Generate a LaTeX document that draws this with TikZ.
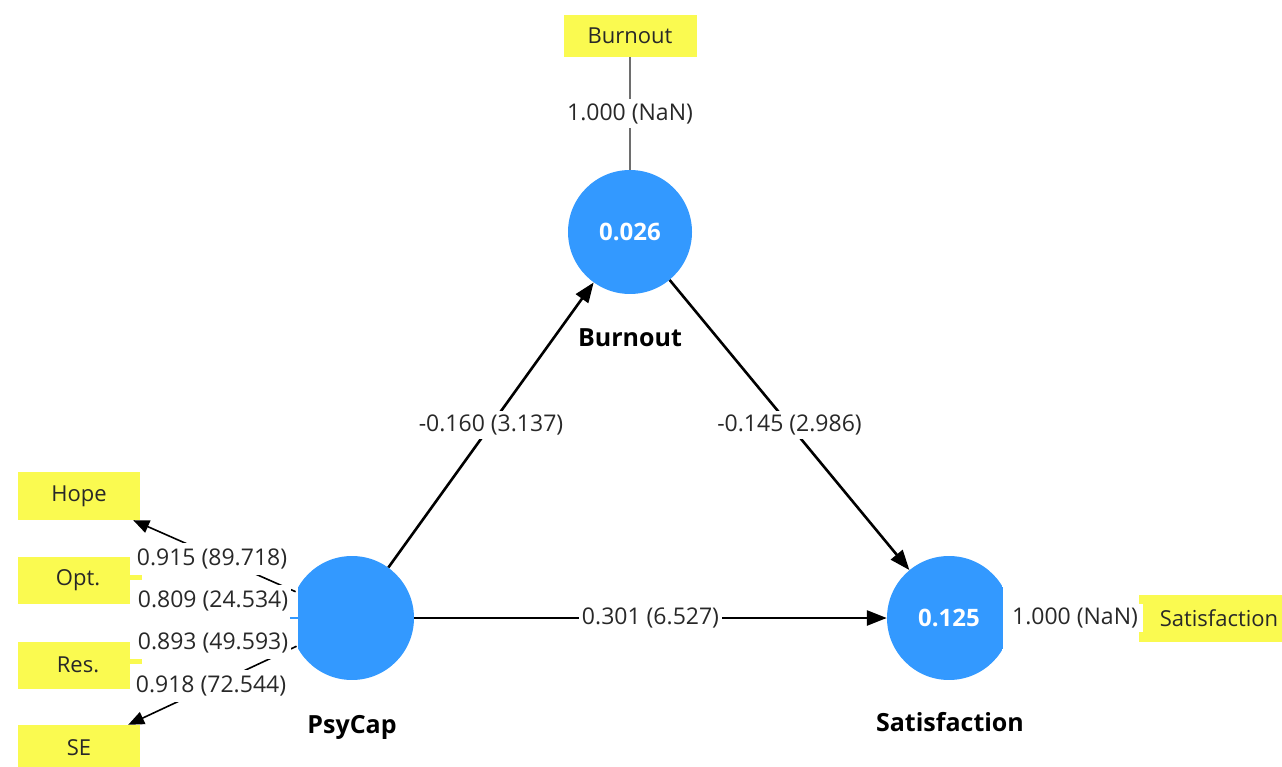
\documentclass[tikz,border=0pt]{standalone}
\usepackage{fontspec}
\setmainfont{Open Sans}
\usetikzlibrary{arrows.meta}
\definecolor{lvblue}{RGB}{51,153,255}
\definecolor{indyellow}{RGB}{250,250,80}
\definecolor{lbltext}{RGB}{40,40,40}
\definecolor{linegray}{RGB}{110,110,110}
\begin{document}
\begin{tikzpicture}[x=1pt,y=-1pt,
  lv/.style={circle,minimum size=124pt,inner sep=0pt,text=white,font=\fontsize{24}{28}\selectfont\bfseries},
  ind/.style={fill=indyellow,inner sep=0pt,font=\fontsize{22}{26}\selectfont,text=lbltext},
  lbl/.style={fill=white,inner xsep=3pt,inner ysep=4pt,font=\fontsize{23}{27}\selectfont,text=lbltext},
  ilbl/.style={lbl,inner ysep=6pt},
  lvname/.style={font=\fontsize{25}{29}\selectfont\bfseries},
  struct/.style={line width=2.6pt,-{Triangle[length=20pt,width=15pt]}},
  load/.style={line width=1.6pt,-{Triangle[length=16pt,width=13pt]}},
  plain/.style={line width=1.6pt,draw=linegray}
]
\useasboundingbox (0,0) rectangle (1282,767);

% latent variables
\node[lv,fill=lvblue] (burn) at (630,232) {0.026};
\node[lv,path picture={\fill[lvblue] ([xshift=8pt]path picture bounding box.south west) rectangle (path picture bounding box.north east);}] (psycap) at (352,618) {};
\node[lv,path picture={\fill[lvblue] (path picture bounding box.south west) rectangle ([xshift=-8pt]path picture bounding box.north east);}] (sat) at (949,618) {0.125};
\draw[lvblue,line width=2.5pt] (psycap.west) -- ([xshift=8pt]psycap.west);

\node[lvname] (burnname) at (630,338) {Burnout};
\node[lvname] (psyname) at (352,727) {PsyCap};
\node[lvname] (satname) at (950,722) {Satisfaction};

% indicators
\node[ind,minimum width=133pt,minimum height=42pt] (bind) at (630,36) {Burnout};
\node[ind,minimum width=122pt,minimum height=48pt] (hope) at (79,496) {Hope};
\node[ind,minimum width=112pt,minimum height=47pt] (opt) at (74,580) {\hspace*{8pt}Opt.};
\node[ind,minimum width=112pt,minimum height=47pt] (res) at (74,665) {\hspace*{8pt}Res.};
\node[ind,minimum width=122pt,minimum height=46pt] (se) at (79,748) {SE};
\node[ind,minimum width=160pt,minimum height=47pt] (sind) at (1219,618) {Satisfaction};
\fill[indyellow] (opt.east) ++(0,-5) rectangle ++(12,5);
\fill[indyellow] (res.east) ++(0,-6) rectangle ++(12,5);

% measurement connectors
\draw[plain] (bind) -- (burn) node[lbl,pos=0.5] (lb) {1.000 (NaN)};
\draw[plain] (sat) -- (sind) node[lbl,pos=0.5,inner xsep=5pt] (ls) {1.000 (NaN)};
\draw[load] (psycap.155) -- ([xshift=-7pt]hope.south east);
\draw[load] (psycap.207) -- ([xshift=-12pt]se.north east);

\node[ilbl] (l1) at (212,559) {0.915 (89.718)};
\node[ilbl] (l2) at (213,601) {0.809 (24.534)};
\node[ilbl] (l3) at (213,643) {0.893 (49.593)};
\node[ilbl] (l4) at (211,686) {0.918 (72.544)};

% structural paths
\draw[struct] (psycap) -- (burn) node[lbl,pos=0.5] (p1) {-0.160 (3.137)};
\draw[struct] (burn) -- (sat) node[lbl,pos=0.5] (p2) {-0.145 (2.986)};
\draw[struct] (psycap) -- (sat) node[lbl,pos=0.5] (p3) {0.301 (6.527)};
\end{tikzpicture}
\end{document}
